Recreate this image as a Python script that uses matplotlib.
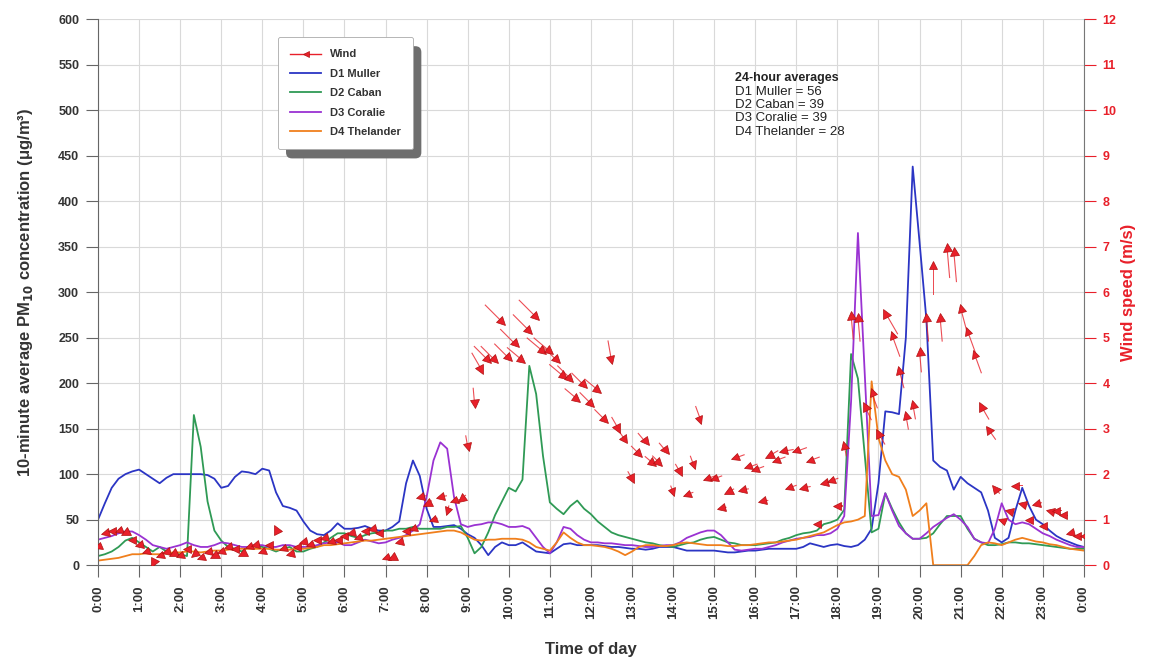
import numpy as np
import matplotlib.pyplot as plt
from matplotlib.lines import Line2D
from matplotlib.markers import MarkerStyle
from matplotlib.patches import FancyBboxPatch
from matplotlib.transforms import Affine2D, IdentityTransform

plt.rcParams['font.family'] = ['Liberation Sans', 'DejaVu Sans']

# 10-minute readings from 0:00 to 24:00
hours = np.arange(0, 24 * 60 + 1, 10) / 60

d1_muller = [
    50, 68, 85, 95, 100, 103,
    105, 100, 95, 90, 96, 100,
    100, 100, 100, 100, 99, 95,
    85, 87, 97, 103, 102, 100,
    106, 104, 80, 65, 63, 60,
    48, 38, 34, 33, 38, 46,
    40, 40, 41, 43, 40, 38,
    38, 42, 48, 90, 115, 98,
    62, 42, 42, 43, 44, 40,
    34, 30, 22, 11, 20, 25,
    22, 22, 25, 20, 15, 14,
    13, 18, 23, 24, 22, 22,
    22, 22, 21, 20, 20, 19,
    18, 18, 17, 18, 20, 20,
    20, 18, 16, 16, 16, 16,
    16, 15, 14, 14, 15, 16,
    16, 17, 18, 18, 18, 18,
    18, 20, 24, 22, 20, 22,
    23, 21, 20, 22, 28, 40,
    90, 169, 168, 166, 250, 438,
    355, 270, 115, 108, 104, 83,
    97, 90, 85, 80, 60, 30,
    25, 30, 60, 85, 65, 50,
    45, 38, 32, 28, 25, 22,
    20,
]

d2_caban = [
    10, 12, 15, 20, 27, 30,
    25, 20, 15, 20, 15, 12,
    12, 10, 165, 130, 70, 38,
    27, 20, 18, 15, 20, 22,
    20, 18, 15, 18, 20, 15,
    15, 18, 20, 25, 30, 35,
    35, 32, 30, 33, 35, 36,
    38, 38, 40, 40, 42, 40,
    40, 40, 40, 42, 42, 43,
    30, 13, 20, 36, 55, 70,
    85, 81, 94, 219, 188, 120,
    69, 62, 56, 65, 71, 62,
    56, 48, 42, 36, 33, 31,
    29, 27, 25, 24, 22, 21,
    20, 22, 24, 25, 28, 30,
    31, 28, 25, 24, 22, 22,
    22, 23, 24, 25, 28, 30,
    33, 35, 36, 38, 45, 47,
    50, 61, 232, 205, 120, 36,
    40, 79, 62, 47, 35, 29,
    29, 30, 35, 45, 54, 54,
    54, 40, 29, 25, 22, 22,
    23, 25, 25, 24, 24, 23,
    22, 21, 20, 19, 18, 18,
    18,
]

d3_coralie = [
    28, 30, 32, 35, 37, 37,
    33, 28, 22, 20, 18, 20,
    22, 25, 22, 20, 20, 22,
    25, 24, 22, 20, 20, 22,
    22, 20, 20, 22, 22, 20,
    20, 20, 22, 24, 25, 25,
    22, 22, 25, 28, 26, 24,
    25, 28, 30, 33, 38, 45,
    75, 115, 135, 128, 75, 45,
    42, 44, 45, 47, 47, 45,
    42, 42, 43, 40, 30, 20,
    13, 25, 42, 40, 33, 28,
    25, 25, 24, 24, 23, 22,
    22, 21, 20, 20, 21, 22,
    22, 25, 30, 33, 36, 38,
    38, 33, 25, 17, 16, 17,
    18, 18, 20, 22, 25, 27,
    29, 30, 31, 33, 33, 35,
    40, 54, 180, 365, 210, 54,
    55, 79, 60, 43, 35, 29,
    29, 35, 42, 47, 52, 56,
    50, 42, 29, 25, 24, 40,
    68, 50, 45, 47, 45, 40,
    35, 32, 28, 25, 22, 20,
    20,
]

d4_thelander = [
    5, 6, 7, 8, 10, 12,
    12, 13, 12, 12, 13, 14,
    14, 15, 15, 14, 15, 16,
    16, 17, 18, 18, 18, 18,
    18, 18, 17, 17, 17, 18,
    18, 19, 20, 22, 22, 23,
    24, 25, 26, 27, 27, 28,
    29, 30, 31, 32, 33, 34,
    35, 36, 37, 38, 38, 36,
    32, 28, 27, 28, 28, 29,
    29, 29, 28, 25, 20, 18,
    16, 25, 36, 30, 25, 22,
    22, 21, 20, 18, 15, 11,
    15, 20, 22, 22, 21, 21,
    22, 24, 25, 24, 23, 22,
    22, 22, 21, 21, 22, 22,
    23, 24, 25, 25, 26, 27,
    28, 30, 32, 34, 36, 40,
    44, 47, 48, 50, 54, 202,
    140, 115, 100, 97, 83, 54,
    60, 68, 0, 0, 0, 0,
    0, 0, 10, 22, 25, 24,
    22, 25, 28, 30, 28, 26,
    25, 23, 22, 20, 18, 17,
    16,
]

# wind speed (m/s) and the way each arrow points (degrees, counter-clockwise from east)
wind_speed = [
    0.4, 0.7, 0.75, 0.75, 0.7, 0.55,
    0.45, 0.3, 0.05, 0.2, 0.3, 0.25,
    0.2, 0.35, 0.25, 0.15, 0.3, 0.2,
    0.3, 0.4, 0.35, 0.25, 0.4, 0.45,
    0.3, 0.45, 0.8, 0.35, 0.25, 0.4,
    0.5, 0.45, 0.55, 0.6, 0.5, 0.55,
    0.65, 0.7, 0.6, 0.75, 0.8, 0.7,
    0.15, 0.15, 0.5, 0.75, 0.8, 1.5,
    1.35, 1.0, 1.5, 1.2, 1.4, 1.45,
    2.6, 3.55, 4.3, 4.5, 4.5, 5.35,
    4.55, 4.85, 4.5, 5.15, 5.45, 4.7,
    4.7, 4.5, 4.15, 4.1, 3.65, 3.95,
    3.55, 3.85, 3.2, 4.5, 3.0, 2.75,
    1.9, 2.45, 2.7, 2.25, 2.25, 2.5,
    1.6, 2.05, 1.55, 2.2, 3.2, 1.9,
    1.9, 1.25, 1.6, 2.35, 1.65, 2.15,
    2.1, 1.4, 2.4, 2.3, 2.5, 1.7,
    2.5, 1.7, 2.3, 0.9, 1.8, 1.85,
    1.3, 2.65, 5.5, 5.45, 3.5, 3.8,
    2.9, 5.55, 5.05, 4.3, 3.3, 3.55,
    4.7, 5.45, 6.6, 5.45, 7.0, 6.9,
    5.65, 5.15, 4.65, 3.5, 3.0, 1.7,
    1.0, 1.2, 1.75, 1.35, 1.0, 1.35,
    0.85, 1.2, 1.2, 1.1, 0.7, 0.65,
    0.65,
]

wind_angle = [
    200, 190, 180, 200, 210, 180,
    190, 200, 240, 200, 190, 210,
    200, 180, 220, 200, 190, 210,
    200, 190, 180, 210, 200, 190,
    200, 180, 120, 200, 190, 180,
    190, 200, 180, 190, 200, 180,
    180, 190, 200, 180, 190, 180,
    200, 210, 190, 180, 200, 190,
    210, 200, 190, 250, 200, 220,
    280, 275, 300, 315, 315, 315,
    315, 315, 320, 315, 315, 320,
    320, 315, 320, 315, 320, 315,
    315, 320, 315, 280, 300, 305,
    300, 315, 310, 320, 315, 310,
    290, 300, 200, 290, 290, 200,
    200, 190, 210, 200, 190, 200,
    200, 190, 210, 200, 190, 200,
    200, 190, 200, 180, 190, 200,
    180, 100, 95, 95, 115, 110,
    120, 120, 110, 105, 100, 100,
    95, 95, 90, 95, 95, 95,
    105, 110, 110, 120, 125, 130,
    160, 170, 180, 170, 180, 190,
    180, 170, 180, 180, 190, 180,
    180,
]

series = [
    ('D1 Muller', d1_muller, '#2b35c4'),
    ('D2 Caban', d2_caban, '#2f9a55'),
    ('D3 Coralie', d3_coralie, '#9a32d2'),
    ('D4 Thelander', d4_thelander, '#f07f1c'),
]
averages = [('D1 Muller', 56), ('D2 Caban', 39), ('D3 Coralie', 39), ('D4 Thelander', 28)]
wind_red = '#e8202a'
text_gray = '#333333'

fig = plt.figure(figsize=(11.49, 6.61), dpi=100)
ax = fig.add_axes([0.0853, 0.145, 0.858, 0.826])
ax2 = ax.twinx()

for name, vals, col in series:
    ax.plot(hours, vals, color=col, lw=1.3, label=name)

ax.set_xlim(0, 24)
ax.set_ylim(0, 600)
ax.set_xticks(range(25))
ax.set_xticklabels([f'{h % 24}:00' for h in range(25)], rotation=90)
ax.set_yticks(range(0, 601, 50))
ax.grid(True, color='#d9d9d9', lw=0.8)
ax.set_axisbelow(True)
ax.tick_params(axis='both', colors='#666666', labelcolor=text_gray, length=8.5, width=0.8)
ax.tick_params(axis='y', labelsize=9, pad=5)
ax.tick_params(axis='x', labelsize=9.5, pad=6)
for lab in ax.get_xticklabels() + ax.get_yticklabels():
    lab.set_fontweight('bold')
ax.spines['top'].set_visible(False)
ax.spines['right'].set_visible(False)
for s in ('left', 'bottom'):
    ax.spines[s].set_color('#666666')
ax.set_xlabel('Time of day', fontsize=12, fontweight='bold', color=text_gray, labelpad=16)
ax.set_ylabel('10-minute average PM$_{\\mathbf{10}}$ concentration (μg/m³)',
              fontsize=12, fontweight='bold', color=text_gray, labelpad=17)

# wind: tail line plus a rotated triangle head at each reading
ang = np.radians(wind_angle)
tail = 4.5 * np.array(wind_speed)
ax2.quiver(hours, wind_speed, tail * np.cos(ang), tail * np.sin(ang),
           angles='uv', scale_units='dots', scale=1, units='dots', width=1.1,
           headwidth=1, headlength=0, headaxislength=0, pivot='tip',
           color=wind_red, alpha=0.8, zorder=3)
for t, w, a in zip(hours, wind_speed, wind_angle):
    m = MarkerStyle('^', transform=Affine2D().rotate_deg(a - 90))
    ax2.plot(t, w, marker=m, ms=6, color=wind_red, mec='#b01010', mew=0.5, zorder=4)

ax2.set_ylim(0, 12)
ax2.set_yticks(range(13))
ax2.tick_params(axis='y', labelsize=9, colors=wind_red, labelcolor=wind_red,
                length=8.5, width=0.8, pad=5)
for lab in ax2.get_yticklabels():
    lab.set_fontweight('bold')
ax2.spines['top'].set_visible(False)
ax2.spines['left'].set_visible(False)
ax2.spines['bottom'].set_visible(False)
ax2.spines['right'].set_color('#777777')
ax2.set_ylabel('Wind speed (m/s)', fontsize=12, fontweight='bold', color=wind_red, labelpad=3)

handles = [Line2D([], [], color=wind_red, lw=1, marker='<', ms=5, mec='#b01010', mew=0.5)]
handles += [Line2D([], [], color=col, lw=1.3) for _, _, col in series]
labels = ['Wind'] + [name for name, _, _ in series]
leg = ax2.legend(handles, labels, loc='upper left', bbox_to_anchor=(0.1826, 0.967),
                 borderaxespad=0, frameon=True, fancybox=True, edgecolor='#aaaaaa',
                 framealpha=1, prop={'size': 8, 'weight': 'bold'}, handlelength=2.8,
                 numpoints=1, labelspacing=0.85, borderpad=1.1, handletextpad=0.8)
leg.get_frame().set_linewidth(0.6)
leg.set_zorder(10)
for txt in leg.get_texts():
    txt.set_color(text_gray)

# offset drop shadow behind the legend box
fig.canvas.draw()
bb = leg.get_window_extent()
ax2.add_patch(FancyBboxPatch((bb.x0 + 8, bb.y0 - 9), bb.width, bb.height,
                             boxstyle='round,pad=0,rounding_size=6',
                             transform=IdentityTransform(), facecolor='#6e6e6e',
                             edgecolor='none', zorder=9, clip_on=False))

lines = '\n'.join(f'{n} = {v}' for n, v in averages)
ax2.text(0.646, 0.903, '24-hour averages', transform=ax2.transAxes, fontsize=9,
         fontweight='bold', color='#222222', va='top')
ax2.text(0.646, 0.877, lines, transform=ax2.transAxes, fontsize=9.5,
         color='#222222', va='top', linespacing=1.12)

fig.savefig('out.png', dpi=100)
